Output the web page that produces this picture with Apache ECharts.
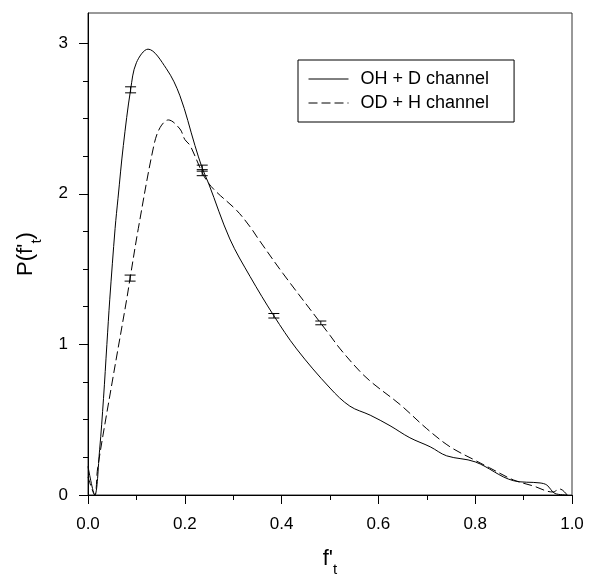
<!DOCTYPE html>
<html>
<head>
<meta charset="utf-8">
<script src="https://cdn.jsdelivr.net/npm/echarts@6/dist/echarts.min.js"></script>
<style>
  html, body { margin: 0; padding: 0; background: #fff; }
  #main { width: 589px; height: 582px; }
</style>
</head>
<body>
<div id="main"></div>
<script>
// OH + D channel (solid curve)
var solidX = [0, 0.014, 0.024, 0.032, 0.039, 0.045, 0.056, 0.062, 0.073, 0.088, 0.10, 0.124, 0.162, 0.19, 0.221, 0.236, 0.249, 0.293, 0.335, 0.384, 0.431, 0.5, 0.541, 0.583, 0.624, 0.665, 0.707, 0.741, 0.80, 0.879, 0.934, 0.948, 0.965, 0.99];
var solidY = [0.19, 0, 0.3, 0.64, 1.0, 1.30, 1.77, 1.97, 2.32, 2.69, 2.87, 2.96, 2.83, 2.65, 2.32, 2.17, 2.07, 1.70, 1.45, 1.19, 0.97, 0.71, 0.59, 0.53, 0.46, 0.38, 0.32, 0.26, 0.22, 0.095, 0.08, 0.066, 0.01, 0];

// OD + H channel (dashed curve)
var dashX = [0, 0.014, 0.02, 0.05, 0.08, 0.087, 0.104, 0.136, 0.149, 0.166, 0.19, 0.2, 0.211, 0.236, 0.249, 0.266, 0.307, 0.335, 0.352, 0.403, 0.481, 0.5, 0.521, 0.562, 0.589, 0.645, 0.70, 0.748, 0.80, 0.83, 0.879, 0.92, 0.96, 0.975, 0.99];
var dashY = [0.12, 0, 0.18, 0.75, 1.30, 1.44, 1.77, 2.32, 2.44, 2.49, 2.43, 2.36, 2.32, 2.14, 2.07, 2.01, 1.89, 1.78, 1.70, 1.47, 1.14, 1.06, 0.97, 0.82, 0.74, 0.60, 0.44, 0.32, 0.23, 0.18, 0.10, 0.06, 0.02, 0.04, 0];

// error bars: x, low, high
var errX  = [0.088, 0.236, 0.384, 0.087, 0.236, 0.481];
var errLo = [2.67, 2.15, 1.175, 1.42, 2.12, 1.13];
var errHi = [2.71, 2.19, 1.205, 1.46, 2.16, 1.155];

var xMajor = [0, 0.2, 0.4, 0.6, 0.8, 1.0];
var xMinor = [0.1, 0.3, 0.5, 0.7, 0.9];
var yMajor = [0, 1, 2, 3];
var yMinor = [0.25, 0.5, 0.75, 1.25, 1.5, 1.75, 2.25, 2.5, 2.75];

var font = 'Liberation Sans, Arial, sans-serif';

var solidData = solidX.map(function (x, i) { return [x, solidY[i]]; });
var dashData = dashX.map(function (x, i) { return [x, dashY[i]]; });
var errData = errX.map(function (x, i) { return [x, errLo[i], errHi[i]]; });

var myChart = echarts.init(document.getElementById('main'));

var option = {
    animation: false,
    backgroundColor: '#fff',
    grid: {
        left: 88, right: 17, top: 13, bottom: 85,
        show: true, borderColor: '#333', borderWidth: 1
    },
    legend: {
        data: ['OH + D channel', 'OD + H channel'],
        orient: 'vertical',
        left: 298, top: 60,
        itemWidth: 40, itemHeight: 10, itemGap: 6,
        borderColor: '#000', borderWidth: 1,
        padding: [10, 25, 10, 10],
        itemStyle: { opacity: 0 },
        lineStyle: { width: 1 },
        textStyle: { fontSize: 18, fontFamily: font, color: '#000', padding: [0, 0, 0, 7] }
    },
    xAxis: [{
        type: 'value', min: 0, max: 1, interval: 0.2,
        name: "f'{s|t}",
        nameLocation: 'middle', nameGap: 46,
        nameTextStyle: {
            fontSize: 22, fontFamily: font, color: '#000',
            rich: { s: { fontSize: 15, fontFamily: font, color: '#000', verticalAlign: 'bottom', lineHeight: 36 } }
        },
        axisLine: { show: true, lineStyle: { color: '#000', width: 1 } },
        axisTick: { show: true, length: 9, customValues: xMajor, lineStyle: { color: '#000' } },
        axisLabel: {
            customValues: xMajor, margin: 21, fontSize: 17, fontFamily: font, color: '#000',
            formatter: function (v) { return v.toFixed(1); }
        },
        splitLine: { show: false }
    }, {
        type: 'value', min: 0, max: 1, position: 'bottom',
        axisLine: { show: false },
        axisTick: { show: true, length: 5, customValues: xMinor, lineStyle: { color: '#000' } },
        axisLabel: { show: false },
        splitLine: { show: false }
    }],
    yAxis: [{
        type: 'value', min: 0, max: 3.2,
        name: "P(f'{s|t})",
        nameLocation: 'middle', nameGap: 44,
        nameTextStyle: {
            fontSize: 22, fontFamily: font, color: '#000',
            rich: { s: { fontSize: 15, fontFamily: font, color: '#000', verticalAlign: 'bottom', lineHeight: 36 } }
        },
        axisLine: { show: true, lineStyle: { color: '#000', width: 1 } },
        axisTick: { show: true, length: 9, customValues: yMajor, lineStyle: { color: '#000' } },
        axisLabel: { customValues: yMajor, margin: 20, fontSize: 17, fontFamily: font, color: '#000' },
        splitLine: { show: false }
    }, {
        type: 'value', min: 0, max: 3.2, position: 'left',
        axisLine: { show: false },
        axisTick: { show: true, length: 5, customValues: yMinor, lineStyle: { color: '#000' } },
        axisLabel: { show: false },
        splitLine: { show: false }
    }],
    series: [{
        name: 'OH + D channel',
        type: 'line',
        data: solidData,
        symbol: 'none',
        smooth: 0.35,
        lineStyle: { color: '#000', width: 1 },
        itemStyle: { color: '#000' }
    }, {
        name: 'OD + H channel',
        type: 'line',
        data: dashData,
        symbol: 'none',
        smooth: 0.35,
        lineStyle: { color: '#000', width: 1, type: [9, 4] },
        itemStyle: { color: '#000' }
    }, {
        name: 'errors',
        type: 'custom',
        data: errData,
        renderItem: function (params, api) {
            var lo = api.coord([api.value(0), api.value(1)]);
            var hi = api.coord([api.value(0), api.value(2)]);
            var w = 5.5;
            var st = { stroke: '#000', lineWidth: 1 };
            return {
                type: 'group',
                children: [
                    { type: 'line', shape: { x1: lo[0], y1: lo[1], x2: hi[0], y2: hi[1] }, style: st },
                    { type: 'line', shape: { x1: lo[0] - w, y1: lo[1], x2: lo[0] + w, y2: lo[1] }, style: st },
                    { type: 'line', shape: { x1: hi[0] - w, y1: hi[1], x2: hi[0] + w, y2: hi[1] }, style: st }
                ]
            };
        }
    }]
};

myChart.setOption(option);
</script>
</body>
</html>
